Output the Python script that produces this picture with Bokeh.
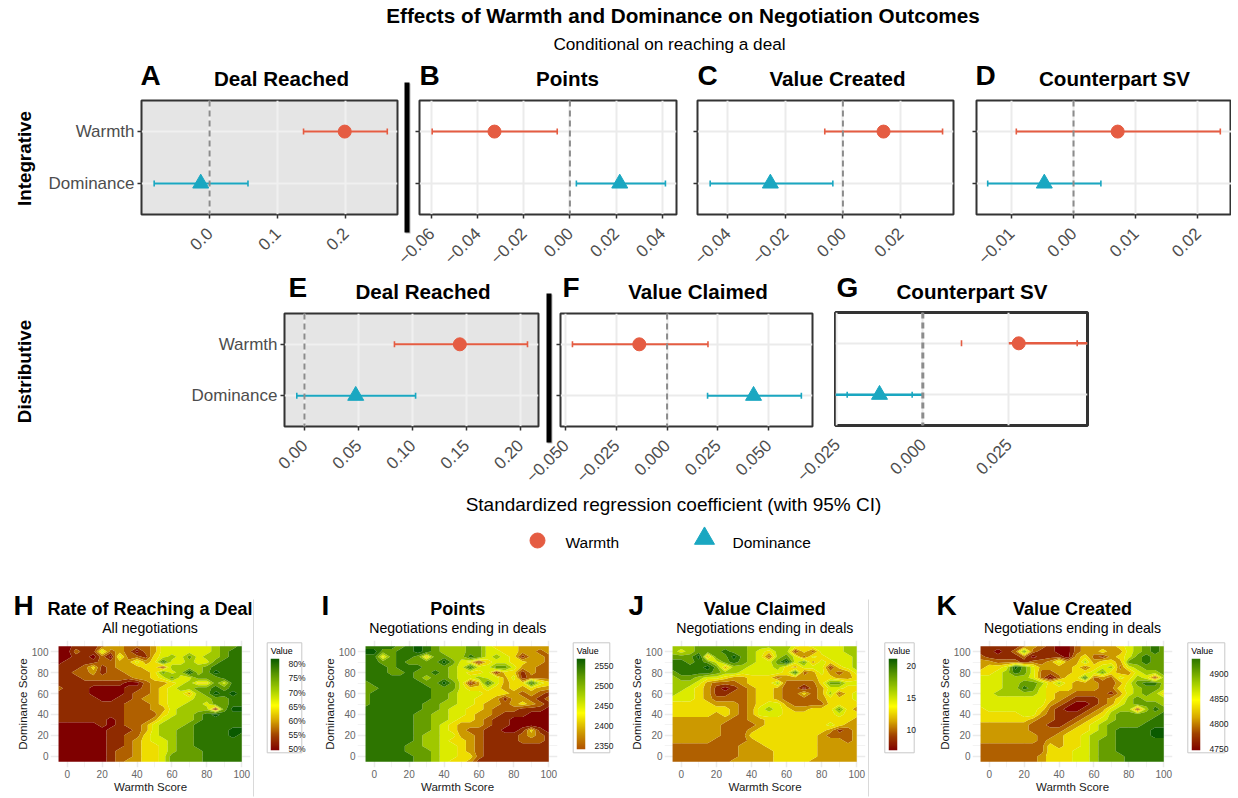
import math
import numpy as np
from bokeh.embed import file_html
from bokeh.resources import INLINE
from bokeh.core.properties import value
from bokeh.models import ColumnDataSource, CustomJSTickFormatter, FactorRange, FixedTicker, LinearColorMapper, Range1d, Span
from bokeh.plotting import figure

FONT = "Liberation Sans"
COEFS = ["Warmth", "Dominance"]
RED = "#E55C42"
BLUE = "#1AA7C1"

# ---- forest panels: [Warmth, Dominance]
a_low, a_est, a_high = [0.138, -0.0814], [0.1985, -0.013], [0.261, 0.0564]
b_low, b_est, b_high = [-0.0597, 0.0028], [-0.0327, 0.0216], [-0.0055, 0.0414]
c_low, c_est, c_high = [-0.0063, -0.0461], [0.0141, -0.0252], [0.0346, -0.0035]
d_low, d_est, d_high = [-0.0092, -0.0138], [0.0071, -0.0047], [0.0236, 0.0044]
e_low, e_est, e_high = [0.0834, -0.0071], [0.144, 0.0475], [0.2067, 0.103]
f_low, f_est, f_high = [-0.0467, 0.0200], [-0.0137, 0.0427], [0.0202, 0.0663]
g_low, g_est, g_high = [0.01125, -0.022], [0.0279, -0.0126], [0.0449, -0.0031]
g_seg_low, g_seg_high = [0.025, -0.0254], [0.0479, 0.0]

a_ticks, a_labels = [0.0, 0.1, 0.2], ["0.0", "0.1", "0.2"]
b_ticks, b_labels = [-0.06, -0.04, -0.02, 0.0, 0.02, 0.04], ["\u22120.06", "\u22120.04", "\u22120.02", "0.00", "0.02", "0.04"]
c_ticks, c_labels = [-0.04, -0.02, 0.0, 0.02], ["\u22120.04", "\u22120.02", "0.00", "0.02"]
d_ticks, d_labels = [-0.01, 0.0, 0.01, 0.02], ["\u22120.01", "0.00", "0.01", "0.02"]
e_ticks, e_labels = [0.0, 0.05, 0.10, 0.15, 0.20], ["0.00", "0.05", "0.10", "0.15", "0.20"]
f_ticks, f_labels = [-0.05, -0.025, 0.0, 0.025, 0.05], ["\u22120.050", "\u22120.025", "0.000", "0.025", "0.050"]
g_ticks, g_labels = [-0.025, 0.0, 0.025], ["\u22120.025", "0.000", "0.025"]

# ---- heat panels: estimated band index per grid node (rows top to bottom)
grid_x = [-5, 0, 5, 10, 15, 20, 25, 30, 35, 40, 45, 50, 55, 60, 65, 70, 75, 80, 85, 90, 95, 100]
grid_y = [105, 100, 95, 90, 85, 80, 75, 70, 65, 60, 55, 50, 45, 40, 35, 30, 25, 20, 15, 10, 5, 0, -5]

h_band_values = [51, 53.5, 56, 58.5, 61, 64, 68, 72.5, 77, 81]
i_band_values = [2345, 2365, 2385, 2400, 2415, 2435, 2460, 2490, 2520, 2555]
j_band_values = [7.5, 8.5, 9.5, 11, 12.5, 14, 15.5, 17, 18.5, 20.5]
k_band_values = [4755, 4770, 4785, 4800, 4825, 4850, 4870, 4890, 4910, 4930]

h_grid = [
 [0,0,1,1,1,2,3,3,2,2,2,3,5,5,5,5,5,5,6,7,7,8],
 [0,0,2,1,1,5,2,3,2,0,2,3,5,5,5,5,5,5,6,7,8,8],
 [0,0,1,1,0,2,0,5,2,2,1,4,5,6,5,7,5,6,6,7,8,8],
 [0,1,1,1,1,2,2,3,3,5,3,4,8,5,5,6,5,5,7,8,8,8],
 [1,1,1,2,4,1,2,3,3,3,4,4,1,6,6,6,6,7,8,8,8,8],
 [1,1,2,2,3,1,2,2,3,3,3,4,7,5,6,9,6,7,9,8,8,8],
 [1,1,1,2,2,2,2,2,2,3,3,4,5,7,5,5,7,7,7,8,8,8],
 [1,1,1,1,1,1,1,1,0,0,2,3,3,4,5,6,4,4,7,5,8,8],
 [2,1,1,1,0,0,0,0,1,1,2,3,4,5,6,6,7,7,8,7,8,8],
 [1,1,1,1,0,0,0,0,1,2,2,3,4,5,5,3,6,7,9,8,9,8],
 [1,1,1,1,1,0,0,1,1,2,3,3,4,5,5,5,6,6,7,7,8,8],
 [1,1,1,1,1,1,1,1,2,2,2,3,4,5,5,6,6,5,7,7,8,8],
 [1,1,1,1,1,1,1,1,2,2,2,3,3,5,6,6,6,6,0,7,9,9],
 [1,1,1,1,1,1,1,1,2,2,2,2,4,5,6,6,7,8,9,8,8,8],
 [1,1,1,1,1,1,0,1,2,2,2,3,5,6,6,6,7,8,8,8,8,8],
 [0,0,0,0,0,1,0,1,2,2,3,5,6,6,6,7,8,8,8,8,8,8],
 [0,0,0,0,0,0,1,1,1,2,3,5,6,6,7,7,8,8,8,8,9,9],
 [0,0,0,0,0,0,1,1,2,2,4,5,6,6,7,7,8,8,8,8,9,8],
 [0,0,0,0,0,0,1,1,2,3,4,5,5,6,7,7,8,8,8,8,8,8],
 [0,0,0,0,0,0,1,1,2,3,4,4,5,6,7,7,8,8,8,8,8,8],
 [0,0,0,0,0,0,1,2,2,3,4,4,5,6,7,7,7,8,8,8,8,8],
 [0,0,0,0,0,0,1,2,2,3,4,4,5,7,7,7,7,8,8,8,8,8],
 [0,0,0,0,0,0,1,2,3,3,4,4,5,7,7,7,7,8,8,8,8,8],
]
i_grid = [
 [8,8,8,8,7,8,9,8,7,6,6,6,7,7,5,4,4,4,3,3,3,3],
 [9,9,7,7,8,8,9,8,7,6,6,6,7,7,5,5,4,4,3,3,2,3],
 [8,8,4,7,8,8,7,3,7,7,6,6,8,7,5,6,5,4,1,3,3,2],
 [8,8,7,7,8,7,7,7,7,9,7,5,4,1,4,5,5,4,4,3,3,2],
 [8,8,8,7,8,8,8,7,7,7,6,5,8,5,5,7,7,5,3,3,2,2],
 [8,8,8,7,7,8,7,7,8,7,6,5,4,4,5,1,4,4,1,3,2,2],
 [8,8,8,8,8,8,7,6,7,7,6,5,5,6,5,5,3,5,1,2,2,2],
 [7,8,8,8,8,8,8,7,7,9,7,5,1,3,8,5,3,4,4,8,5,4],
 [7,7,8,8,8,8,8,8,7,7,7,5,4,4,5,4,3,4,3,4,3,3],
 [7,8,8,8,8,8,8,8,7,7,6,5,5,5,4,4,4,3,2,3,2,1],
 [7,8,8,8,8,8,8,8,7,7,6,5,5,4,4,3,1,3,3,2,1,2],
 [7,8,8,8,8,8,8,7,7,6,6,5,5,4,3,3,2,3,4,3,2,1],
 [8,8,8,8,8,8,8,7,7,6,5,5,4,4,3,2,2,2,1,1,1,0],
 [8,8,8,8,8,8,7,7,6,6,5,5,4,3,3,2,1,1,1,0,0,0],
 [8,8,8,8,8,8,7,7,6,6,5,4,4,3,2,1,1,0,0,0,0,0],
 [8,8,8,8,8,8,7,7,6,5,4,3,3,3,2,1,1,0,0,0,0,0],
 [8,8,8,8,8,8,7,7,6,5,4,3,2,2,1,1,0,0,1,4,1,0],
 [8,8,8,8,8,8,7,6,6,5,5,3,3,2,1,1,1,1,2,3,2,1],
 [8,8,8,8,8,8,7,6,6,5,4,4,3,2,1,1,1,1,2,2,2,1],
 [8,8,8,8,8,7,7,6,6,5,5,4,3,2,1,1,1,1,1,1,1,1],
 [8,8,8,8,8,7,7,7,6,5,5,4,3,2,1,1,1,1,1,1,1,1],
 [8,8,8,8,8,8,7,7,6,5,5,4,4,2,1,1,1,1,1,1,1,1],
 [8,8,8,8,8,8,7,7,6,5,4,4,3,1,1,1,1,1,1,1,1,1],
]
j_grid = [
 [6,6,6,7,7,7,7,7,7,6,6,6,6,6,5,4,5,5,5,5,6,6],
 [6,5,6,7,7,7,8,7,7,6,5,4,6,6,1,4,2,5,5,5,6,6],
 [7,7,7,9,3,7,7,9,7,6,5,2,6,7,5,2,5,4,5,5,5,6],
 [8,8,7,8,7,5,7,8,7,6,5,5,7,9,5,7,3,5,4,5,5,6],
 [8,8,8,8,9,7,3,6,6,5,5,5,6,4,3,5,5,5,1,4,5,6],
 [7,8,8,8,8,7,6,6,5,5,5,5,5,4,8,2,3,5,3,2,3,5],
 [6,7,7,6,5,5,4,3,3,4,4,4,2,3,3,3,3,4,4,3,3,4],
 [6,6,6,5,3,2,2,2,3,4,4,4,6,2,2,2,2,4,7,7,5,5],
 [6,6,5,4,3,1,0,1,2,3,4,4,3,2,2,0,2,3,5,5,4,4],
 [6,5,5,4,3,1,1,2,2,3,4,4,3,2,2,4,2,3,6,2,4,5],
 [5,5,5,4,3,2,2,2,2,3,4,4,3,2,2,2,2,3,4,4,4,5],
 [4,4,4,4,4,3,3,3,2,3,4,5,5,3,2,2,2,2,4,4,4,4],
 [4,4,4,4,4,4,4,3,2,3,5,6,5,4,3,3,4,4,4,7,4,3],
 [4,4,4,4,4,3,4,3,2,3,5,5,5,4,4,4,4,4,4,5,4,4],
 [3,3,3,3,3,3,3,2,2,3,3,4,4,4,4,4,4,4,4,4,4,3],
 [3,3,3,3,3,3,2,2,2,2,3,4,4,4,4,4,4,4,5,4,3,3],
 [3,3,3,3,3,3,2,2,2,3,4,4,4,4,4,4,4,4,3,1,2,3],
 [3,3,3,3,3,3,2,2,2,4,4,4,4,4,4,4,4,3,2,2,2,3],
 [3,3,3,3,3,2,2,2,2,3,4,4,4,4,4,4,4,3,3,3,2,3],
 [2,2,2,2,2,2,2,2,3,3,3,4,4,4,4,4,4,3,3,3,3,3],
 [2,2,2,2,2,2,2,2,3,3,3,3,4,4,4,4,4,3,3,3,3,3],
 [2,2,2,2,2,2,2,2,3,3,3,3,4,4,4,4,4,3,3,3,3,3],
 [2,2,2,2,2,2,2,3,3,3,3,3,4,4,4,4,3,3,3,3,3,3],
]
k_grid = [
 [1,1,1,1,1,2,3,2,1,0,0,2,3,3,3,3,4,5,6,7,8,7],
 [1,1,0,1,2,7,2,1,1,0,0,2,3,3,4,3,3,5,6,7,8,7],
 [2,1,1,1,1,2,0,1,1,1,0,3,4,2,1,3,4,5,7,8,7,7],
 [3,3,2,2,2,1,2,2,3,5,3,3,6,3,4,4,3,7,7,8,7,7],
 [3,4,4,5,9,7,5,3,3,3,3,4,2,4,5,6,2,5,6,7,7,7],
 [4,4,5,6,8,7,5,2,2,3,3,4,4,5,7,4,3,3,5,6,6,7],
 [5,5,5,6,6,6,5,2,0,2,4,4,8,2,3,2,5,4,6,5,1,6],
 [5,5,5,6,6,7,7,6,4,6,4,3,3,3,2,2,3,5,7,8,8,6],
 [5,5,5,6,6,8,7,5,4,4,4,3,3,3,2,2,4,5,6,7,7,6],
 [5,5,6,6,6,6,6,5,4,3,3,2,2,2,2,1,3,5,6,7,6,4],
 [5,5,5,5,5,5,5,5,4,3,2,1,1,1,2,3,4,6,7,6,6,6],
 [5,5,5,5,5,5,5,5,3,2,1,0,0,1,2,3,5,6,7,7,7,6],
 [4,5,5,5,5,5,5,4,2,1,0,0,1,2,3,5,6,6,1,6,8,7],
 [4,4,4,4,4,5,5,3,2,1,1,1,2,3,4,6,7,7,7,7,7,8],
 [4,4,4,4,4,4,3,2,2,1,1,2,3,4,5,6,7,7,7,7,8,8],
 [3,3,3,3,3,3,2,2,1,1,2,3,4,5,6,7,7,7,7,8,8,8],
 [3,3,3,3,3,3,2,2,2,2,3,4,4,5,6,7,8,8,8,8,9,9],
 [3,3,3,3,3,3,3,2,2,3,4,4,5,6,6,7,8,8,8,8,9,9],
 [3,3,3,3,3,3,3,2,3,3,4,4,5,6,7,7,8,8,8,8,8,8],
 [2,2,2,2,2,2,2,2,4,3,4,4,5,6,7,7,8,8,8,8,8,8],
 [2,2,2,2,2,2,2,2,4,4,4,5,5,6,7,7,8,8,8,8,8,8],
 [2,2,2,2,2,2,2,3,4,4,4,5,5,6,7,7,7,8,8,8,8,8],
 [2,2,2,2,2,2,2,3,4,4,4,5,5,6,7,7,7,8,8,8,8,8],
]

band_palette = ["#7F0000", "#8F2B00", "#B06000", "#CC9900", "#EEDD00", "#DCEB00", "#A0C800", "#669E00", "#2D7500", "#0A5A00"]

heat_ticks = [0, 20, 40, 60, 80, 100]
heat_minor = [10, 30, 50, 70, 90]

h_legend_ticks, h_legend_labels = [50, 55, 60, 65, 70, 75, 80], ["50%", "55%", "60%", "65%", "70%", "75%", "80%"]
i_legend_ticks, i_legend_labels = [2350, 2400, 2450, 2500, 2550], ["2350", "2400", "2450", "2500", "2550"]
j_legend_ticks, j_legend_labels = [10, 15, 20], ["10", "15", "20"]
k_legend_ticks, k_legend_labels = [4750, 4800, 4850, 4900], ["4750", "4800", "4850", "4900"]


def place(p, frame_left, frame_top, mb_left, mb_top):
    p.styles = {"position": "absolute", "left": f"{frame_left - mb_left}px", "top": f"{frame_top - mb_top}px"}
    return p


def forest(frame, xr, ticks, labels, low, est, high, grey=False, show_names=False, show_yticks=True,
           seg=None, heavy=False):
    l, t, r, b = frame
    mbl, mbt, mbr, mbb = 100, 6, (0 if r > 1225 else 8), 62
    w, h = r - l, b - t
    p = figure(width=w + mbl + mbr, height=h + mbt + mbb, frame_width=w, frame_height=h,
               min_border_left=mbl, min_border_top=mbt, min_border_right=mbr, min_border_bottom=mbb,
               x_range=Range1d(*xr), y_range=FactorRange(factors=COEFS[::-1], range_padding=0.1, range_padding_units="absolute"),
               output_backend="svg", toolbar_location=None, border_fill_color=None,
               background_fill_color="#E5E5E5" if grey else "white")
    p.outline_line_color = "#333333"
    p.outline_line_width = 3 if heavy else 2
    p.xaxis.ticker = FixedTicker(ticks=ticks)
    p.xaxis.major_label_overrides = dict(zip(ticks, labels))
    p.xaxis.major_label_orientation = math.pi / 4
    p.xaxis.axis_line_color = None
    p.yaxis.axis_line_color = None
    p.xaxis.minor_tick_line_color = None
    p.xaxis.major_tick_line_color = None if heavy else "#333333"
    p.yaxis.major_tick_line_color = "#333333" if show_yticks else None
    p.xaxis.major_tick_line_width = 1.5
    p.yaxis.major_tick_line_width = 1.5
    p.xaxis.major_tick_in = 0
    p.yaxis.major_tick_in = 0
    p.xaxis.major_tick_out = 4
    p.yaxis.major_tick_out = 4
    p.xaxis.major_label_standoff = 12
    p.yaxis.major_label_standoff = 3
    for ax in (p.xaxis, p.yaxis):
        ax.major_label_text_font = FONT
        ax.major_label_text_color = "#4D4D4D"
        ax.major_label_text_font_size = "17px"
    if not show_names:
        p.yaxis.formatter = CustomJSTickFormatter(code="return ''")
    gc = "#F0F0F0" if grey else "#EBEBEB"
    p.xgrid.grid_line_color = gc
    p.ygrid.grid_line_color = gc
    p.xgrid.grid_line_width = 2
    p.ygrid.grid_line_width = 2
    p.add_layout(Span(location=0, dimension="height", line_color="#8C8C8C",
                      line_dash="6 4", line_width=3 if heavy else 2))
    colors = [RED, BLUE]
    src = ColumnDataSource(dict(y=COEFS, low=low, est=est, high=high, color=colors,
                                seg_low=seg[0] if seg else low, seg_high=seg[1] if seg else high))
    p.segment(x0="seg_low", x1="seg_high", y0="y", y1="y", line_color="color", line_width=2.4 if heavy else 2, source=src)
    for f in ("low", "high"):
        p.scatter(x=f, y="y", marker="dash", size=6, angle=math.pi / 2, line_color="color", line_width=1.6, source=src)
    circ = ColumnDataSource(dict(x=est[:1], y=COEFS[:1]))
    tri = ColumnDataSource(dict(x=est[1:], y=COEFS[1:]))
    p.scatter(x="x", y="y", marker="circle", size=13, fill_color=RED, line_color=RED, source=circ)
    p.scatter(x="x", y="y", marker="triangle", size=16, fill_color=BLUE, line_color=BLUE, source=tri)
    return place(p, l, t, mbl, mbt)


def heat(frame, grid, band_values):
    l, t, r, b = frame
    mbl, mbt, mbr, mbb = 46, 2, 2, 26
    w, h = r - l, b - t
    p = figure(width=w + mbl + mbr, height=h + mbt + mbb, frame_width=w, frame_height=h,
               min_border_left=mbl, min_border_top=mbt, min_border_right=mbr, min_border_bottom=mbb,
               x_range=Range1d(-9.6, 105), y_range=Range1d(-10.5, 110.5),
               output_backend="svg", toolbar_location=None, border_fill_color=None, background_fill_color=None)
    p.outline_line_color = None
    for ax, lab in ((p.xaxis, "Warmth Score"), (p.yaxis, "Dominance Score")):
        ax.ticker = FixedTicker(ticks=heat_ticks, minor_ticks=heat_minor)
        ax.axis_line_color = None
        ax.major_tick_line_color = None
        ax.minor_tick_line_color = None
        ax.major_tick_out = 0
        ax.major_tick_in = 0
        ax.minor_tick_out = 0
        ax.minor_tick_in = 0
        ax.major_label_text_font = FONT
        ax.major_label_text_font_size = "10px"
        ax.major_label_text_color = "#666666"
        ax.major_label_standoff = 2
        ax.axis_label = lab
        ax.axis_label_text_font = FONT
        ax.axis_label_text_font_style = "normal"
        ax.axis_label_text_font_size = "11.5px"
        ax.axis_label_text_color = "#1A1A1A"
        ax.axis_label_standoff = 0
    for g in (p.xgrid, p.ygrid):
        g.grid_line_color = "#EBEBEB"
        g.grid_line_width = 1.5
        g.minor_grid_line_color = "#F0F0F0"
        g.minor_grid_line_width = 0.8
    vals = np.asarray(band_values, dtype=float)
    z = vals[np.asarray(grid)[::-1]]
    mids = (vals[:-1] + vals[1:]) / 2
    levels = [vals[0] - (mids[0] - vals[0])] + list(mids) + [vals[-1] + (vals[-1] - mids[-1])]
    cr = p.contour(grid_x, grid_y[::-1], z, levels=levels, fill_color=band_palette, line_color=None)
    cr.fill_renderer.glyph.line_color = cr.fill_renderer.glyph.fill_color
    cr.fill_renderer.glyph.line_width = 0.6
    return place(p, l, t, mbl, mbt)


def ramp(stops, n=256):
    fr = [s[0] for s in stops]
    rgb = np.array([[int(s[1][i:i + 2], 16) for i in (1, 3, 5)] for s in stops], dtype=float)
    xs = np.linspace(0, 1, n)
    return ["#%02X%02X%02X" % tuple(int(round(np.interp(x, fr, rgb[:, c]))) for c in range(3)) for x in xs]


def colourbar(frame, lo, hi, ticks, labels, stops):
    l, t, r, b = frame
    w, h = r - l, b - t
    mbr = 30
    p = figure(width=w + mbr, height=h + 12, frame_width=w, frame_height=h,
               min_border_left=0, min_border_right=mbr, min_border_top=6, min_border_bottom=6,
               x_range=Range1d(0, 1), y_range=Range1d(lo, hi), x_axis_type=None, y_axis_location="right",
               output_backend="svg", toolbar_location=None, border_fill_color=None, background_fill_color=None)
    p.outline_line_color = None
    p.grid.visible = False
    arr = np.linspace(lo, hi, 256).reshape(256, 1)
    p.image(image=[arr], x=0, y=lo, dw=1, dh=hi - lo,
            color_mapper=LinearColorMapper(palette=ramp(stops), low=lo, high=hi))
    ax = p.yaxis
    ax.ticker = FixedTicker(ticks=ticks)
    ax.major_label_overrides = dict(zip(ticks, labels))
    ax.axis_line_color = None
    ax.major_tick_line_color = None
    ax.minor_tick_line_color = None
    ax.major_label_standoff = 3
    ax.major_label_text_font = FONT
    ax.major_label_text_font_size = "8.5px"
    ax.major_label_text_color = "#1A1A1A"
    return place(p, l, t, 0, 6)


# background: page coordinates for headings, dividers and legend keys
bg = figure(width=1238, height=798, x_range=Range1d(0, 1238), y_range=Range1d(798, 0),
            x_axis_type=None, y_axis_type=None, output_backend="svg", toolbar_location=None,
            min_border=0, border_fill_color=None, background_fill_color=None, outline_line_color=None)
bg.grid.visible = False
bg.styles = {"position": "absolute", "left": "0px", "top": "0px"}


def txt(x, y, s, size, bold=False, color="#000000", angle=0, align="center"):
    bg.text(x=[x], y=[y], text=[s], text_font=value(FONT), text_font_size=f"{size}px",
            text_font_style="bold" if bold else "normal", text_color=color, angle=angle,
            text_align=align, text_baseline="middle")


txt(682.5, 15, "Effects of Warmth and Dominance on Negotiation Outcomes", 20.7, True)
txt(669, 43, "Conditional on reaching a deal", 17.2)
for x, y, s in [(140, 75, "A"), (419, 75, "B"), (697, 75, "C"), (975, 75, "D"), (288, 287, "E"), (562, 287, "F"), (836, 287, "G"),
                (13, 605, "H"), (321, 605, "I"), (628, 605, "J"), (936, 605, "K")]:
    txt(x, y, s, 28, True, align="left")
for x, y, s in [(281, 78, "Deal Reached"), (567, 78, "Points"), (837, 78, "Value Created"), (1114, 78, "Counterpart SV"),
                (422.5, 291, "Deal Reached"), (697.5, 291, "Value Claimed"), (971.5, 291, "Counterpart SV")]:
    txt(x, y, s, 20.6, True)
txt(24, 158, "Integrative", 18.8, True, angle=math.pi / 2)
txt(24, 371, "Distributive", 18.8, True, angle=math.pi / 2)
txt(673, 504, "Standardized regression coefficient (with 95% CI)", 19)
txt(565, 542, "Warmth", 15.5, align="left")
txt(732, 542, "Dominance", 15.5, align="left")
bg.scatter(x=[537], y=[540], marker="circle", size=15, fill_color=RED, line_color=RED)
bg.scatter(x=[704], y=[538], marker="triangle", size=20, fill_color=BLUE, line_color=BLUE)
for x, y, s, sub in [(149.5, 608, "Rate of Reaching a Deal", "All negotiations"), (457.3, 608, "Points", "Negotiations ending in deals"),
                     (764.3, 608, "Value Claimed", "Negotiations ending in deals"), (1072, 608, "Value Created", "Negotiations ending in deals")]:
    txt(x, y, s, 18, True)
    txt(x, 627, sub, 14.1)
for x in (253, 868):
    bg.segment(x0=[x], x1=[x], y0=[599], y1=[796], line_color="#D9D9D9", line_width=1)
for x0, x1 in [(266.7, 301.3), (572.7, 609.3), (884.3, 913.7), (1187.3, 1224.3)]:
    bg.quad(left=[x0], right=[x1], top=[642.3], bottom=[752.3], fill_color="white", line_color="#C8C8C8", line_width=1)
    txt(x0 + 3.5, 650.5, "Value", 8.8, align="left")

# dividers sit on top of the forest panels' margins
fg = figure(width=1238, height=798, x_range=Range1d(0, 1238), y_range=Range1d(798, 0),
            x_axis_type=None, y_axis_type=None, output_backend="svg", toolbar_location=None,
            min_border=0, border_fill_color=None, background_fill_color=None, outline_line_color=None)
fg.grid.visible = False
fg.styles = {"position": "absolute", "left": "0px", "top": "0px", "pointer-events": "none"}
for x0, x1, y0, y1 in [(404, 409, 82, 232), (546, 551, 293, 442)]:
    fg.quad(left=[x0 + 1], right=[x1 + 1], top=[y0 + 1], bottom=[y1 + 1], fill_color="#BBBBBB", line_color=None)
    fg.quad(left=[x0], right=[x1], top=[y0], bottom=[y1], fill_color="#000000", line_color=None)

figs = [
    bg,
    forest((141, 100, 397, 214), (-0.1, 0.276), a_ticks, a_labels, a_low, a_est, a_high, grey=True, show_names=True),
    forest((419, 100, 676, 214), (-0.0652, 0.0462), b_ticks, b_labels, b_low, b_est, b_high),
    forest((697, 100, 953, 214), (-0.0505, 0.0384), c_ticks, c_labels, c_low, c_est, c_high),
    forest((976, 100, 1231, 214), (-0.0156, 0.0254), d_ticks, d_labels, d_low, d_est, d_high),
    forest((284, 313, 538, 426), (-0.0185, 0.2169), e_ticks, e_labels, e_low, e_est, e_high, grey=True, show_names=True),
    forest((560, 313, 812, 426), (-0.0526, 0.0718), f_ticks, f_labels, f_low, f_est, f_high),
    forest((835, 312, 1087, 425), (-0.0254, 0.0479), g_ticks, g_labels, g_low, g_est, g_high, show_yticks=False,
           seg=(g_seg_low, g_seg_high), heavy=True),
    heat((50, 640, 250, 767), h_grid, h_band_values),
    heat((357, 640, 557, 767), i_grid, i_band_values),
    heat((664, 640, 865, 767), j_grid, j_band_values),
    heat((972, 640, 1172, 767), k_grid, k_band_values),
    colourbar((270, 658, 279, 750), 49.4, 82.1, h_legend_ticks, h_legend_labels,
              [(0, "#7F0000"), (0.16, "#A04000"), (0.33, "#D8A800"), (0.49, "#FFFF00"), (0.65, "#A8D000"), (0.82, "#5E9A00"), (1, "#0A5A00")]),
    colourbar((576, 658, 585, 749), 2340, 2570, i_legend_ticks, i_legend_labels,
              [(0, "#B05000"), (0.2, "#D0A000"), (0.4, "#FFFF00"), (0.6, "#A8D000"), (0.8, "#5E9A00"), (1, "#0A5A00")]),
    colourbar((888, 658, 897, 750), 6.8, 21.2, j_legend_ticks, j_legend_labels,
              [(0, "#7F0000"), (0.16, "#A04000"), (0.32, "#D8A800"), (0.48, "#FFFF00"), (0.65, "#A8D000"), (0.82, "#5E9A00"), (1, "#0A5A00")]),
    colourbar((1191, 658, 1200, 750), 4746.6, 4931, k_legend_ticks, k_legend_labels,
              [(0, "#7F0000"), (0.18, "#A04000"), (0.36, "#D8A800"), (0.55, "#FFFF00"), (0.72, "#A8D000"), (0.88, "#5E9A00"), (1, "#2D7500")]),
    fg,
]

open("out.html", "w").write(file_html(figs, INLINE))
